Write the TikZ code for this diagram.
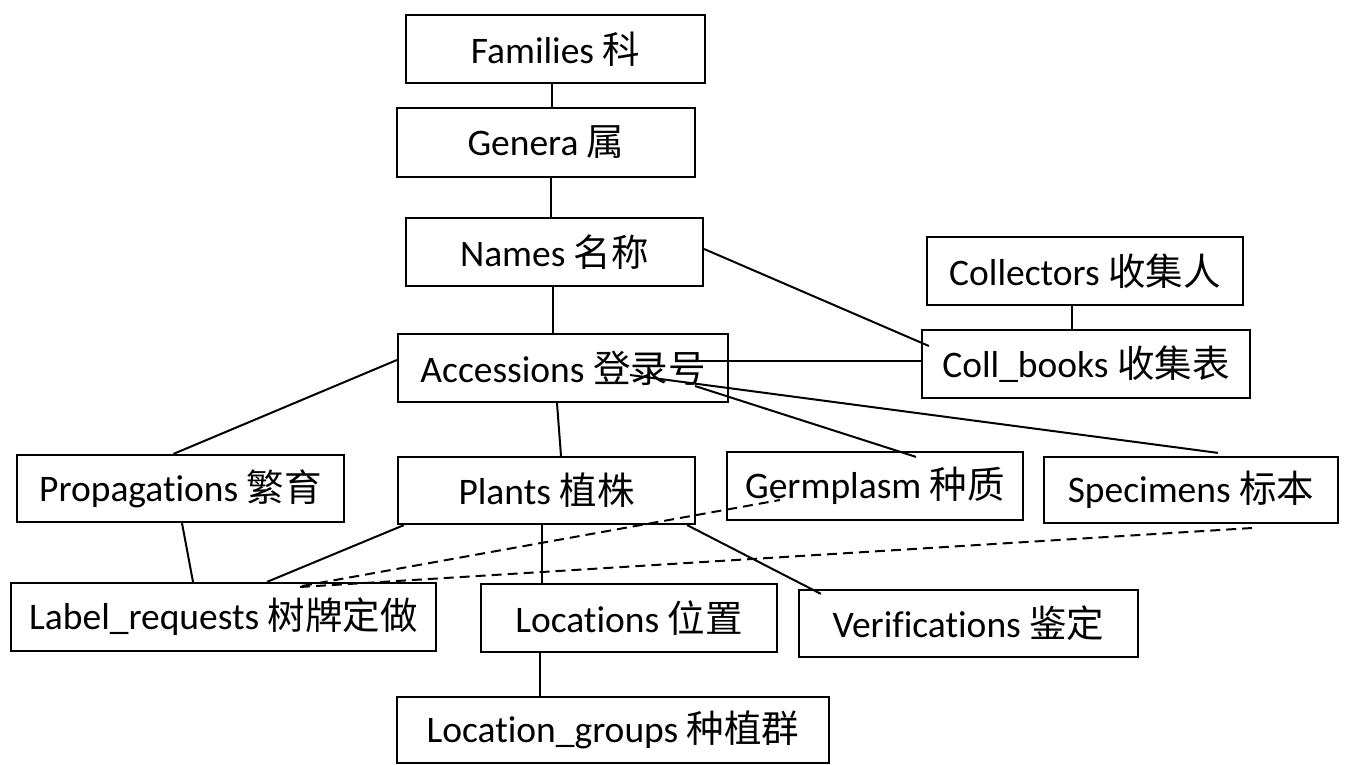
\documentclass[tikz,border=0pt]{standalone}
\usepackage{fontspec}
\setmainfont{Carlito}[Ligatures={NoCommon}]
\newfontfamily\cjk{Noto Sans CJK SC}
\newcommand{\nl}{\kern0pt }
\begin{document}
\begin{tikzpicture}[x=1pt,y=-1pt,
  box/.style={draw=black,line width=2.2pt,rectangle,inner sep=0pt,align=center,
    font=\fontsize{37.5}{45}\selectfont},
  conn/.style={line width=2pt,black},
  dconn/.style={line width=2pt,black,dash pattern=on 10pt off 6pt}]
\useasboundingbox (0,0) rectangle (1349,765);
\node[box,minimum width=299pt,minimum height=68pt] (fam) at (555.5,49) {Families {\cjk 科}};
\node[box,minimum width=298pt,minimum height=69pt] (gen) at (546,142.5) {Genera {\cjk 属}};
\node[box,minimum width=297pt,minimum height=68pt] (nam) at (554.5,252) {Names {\cjk 名称}};
\node[box,minimum width=330pt,minimum height=68pt] (acc) at (563,368) {Accessions {\cjk 登录号}};
\node[box,minimum width=316pt,minimum height=68pt] (colr) at (1085,271) {Collectors {\cjk 收集人}};
\node[box,minimum width=328pt,minimum height=68pt] (colb) at (1086,364) {Coll\_books {\cjk 收集表}};
\node[box,minimum width=327pt,minimum height=67pt] (prop) at (180.5,488.5) {Propagat\nl ions {\cjk 繁育}};
\node[box,minimum width=297pt,minimum height=67pt] (pla) at (546.5,490.5) {Plants {\cjk 植株}};
\node[box,minimum width=296pt,minimum height=68pt] (ger) at (875,486) {Germplasm {\cjk 种质}};
\node[box,minimum width=294pt,minimum height=66pt] (spe) at (1191,490) {Specimens {\cjk 标本}};
\node[box,minimum width=425pt,minimum height=68pt] (lab) at (223.5,617) {Label\_requests {\cjk 树牌定做}};
\node[box,minimum width=296pt,minimum height=68pt] (loc) at (629,618) {Locat\nl ions {\cjk 位置}};
\node[box,minimum width=339pt,minimum height=67pt] (ver) at (968.5,623.5) {Verificat\nl ions {\cjk 鉴定}};
\node[box,minimum width=432pt,minimum height=66pt] (lg) at (613,730) {Locat\nl ion\_groups {\cjk 种植群}};
% connectors
\draw[conn] ([xshift=-3.5pt]fam.south) -- ([xshift=6pt]gen.north);
\draw[conn] ([xshift=5pt]gen.south) -- ([xshift=-3.5pt]nam.north);
\draw[conn] ([xshift=-1.5pt]nam.south) -- ([xshift=-10pt]acc.north);
\draw[conn] ([yshift=3pt]nam.east) -- ([xshift=8pt,yshift=18pt]colb.west);
\draw[conn] ([xshift=-13pt]colr.south) -- ([xshift=-14pt]colb.north);
\draw[conn] ([xshift=127pt,yshift=7pt]acc.center) -- ([yshift=3pt]colb.west);
\draw[conn] ([xshift=67pt,yshift=-7pt]acc.center) -- ([xshift=27pt,yshift=3pt]spe.north);
\draw[conn] ([xshift=132pt,yshift=-18pt]acc.center) -- ([xshift=41pt,yshift=-6pt]ger.north);
\draw[conn] ([yshift=8pt]acc.west) -- ([xshift=-7pt]prop.north);
\draw[conn] ([xshift=-6pt]acc.south) -- ([xshift=14.5pt]pla.north);
\draw[conn] ([xshift=1.5pt]prop.south) -- ([xshift=-30.5pt]lab.north);
\draw[conn] ([xshift=7pt]pla.south west) -- ([xshift=43.5pt]lab.north);
\draw[conn] ([xshift=-4.5pt]pla.south) -- ([xshift=-87pt]loc.north);
\draw[conn] ([xshift=-9pt]pla.south east) -- ([xshift=23pt,yshift=-5pt]ver.north west);
\draw[conn] ([xshift=-89pt]loc.south) -- ([xshift=-73pt]lg.north);
\draw[dconn] ([xshift=78.5pt,yshift=31pt]lab.center) -- ([xshift=-95pt,yshift=-14pt]ger.center);
\draw[dconn] ([xshift=76.5pt,yshift=30pt]lab.center) -- ([xshift=61pt,yshift=-38pt]spe.center);
\end{tikzpicture}
\end{document}
